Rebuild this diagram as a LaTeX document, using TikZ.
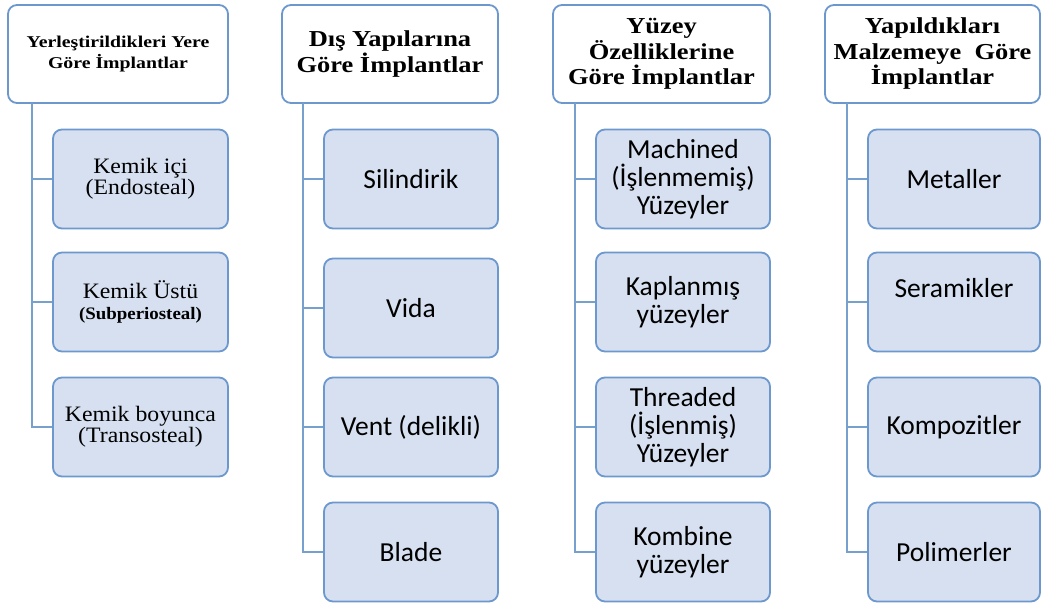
\documentclass[tikz,border=0pt]{standalone}
\usepackage{fontspec}
\setmainfont{Liberation Serif}
\newfontfamily\hdfont[FakeStretch=1.16]{Liberation Serif}
\newfontfamily\hdsmallfont[FakeStretch=1.2]{Liberation Serif}
\newfontfamily\serfont[FakeStretch=1.08]{Liberation Serif}
\newfontfamily\calibfont{Carlito}
\definecolor{bord}{RGB}{108,152,206}
\definecolor{fillb}{RGB}{214,224,240}
\definecolor{connc}{RGB}{120,160,205}
\begin{document}
\begin{tikzpicture}[x=1pt,y=-1pt,
  hdr/.style={draw=bord, fill=white, line width=1.8pt, rounded corners=9pt,
    align=center, inner sep=0pt, minimum height=98pt,
    font=\hdfont\bfseries\fontsize{22.8}{25.5}\selectfont},
  kid/.style={draw=bord, fill=fillb, line width=1.8pt, rounded corners=9pt,
    align=center, inner sep=0pt, minimum width=174pt, minimum height=99pt,
    font=\calibfont\fontsize{27.5}{28}\selectfont},
  serkid/.style={kid, font=\serfont\fontsize{22}{21}\selectfont},
  link/.style={draw=connc, line width=1.8pt}]
\useasboundingbox (0,0) rectangle (1041,606);

% column 1
\node[hdr, minimum width=220pt, font=\hdsmallfont\bfseries\fontsize{16.5}{21}\selectfont] (h1) at (118,54) {Yerleştirildikleri Yere\\Göre İmplantlar};
\node[serkid, minimum width=175pt] (a1) at (140.5,179) {Kemik içi\\(Endosteal)};
\node[serkid, minimum width=175pt] (a2) at (140.5,302) {Kemik Üstü\\{\bfseries\fontsize{17.5}{20}\selectfont(Subperiosteal)}};
\node[serkid, minimum width=175pt] (a3) at (140.5,427) {Kemik boyunca\\(Transosteal)};

% column 2
\node[hdr, minimum width=216pt] (h2) at (390,54) {Dış Yapılarına\\Göre İmplantlar};
\node[kid] (b1) at (411,179) {Silindirik};
\node[kid] (b2) at (411,308) {Vida};
\node[kid] (b3) at (411,427) {Vent (delikli)};
\node[kid] (b4) at (411,552) {Blade};

% column 3
\node[hdr, minimum width=217pt] (h3) at (661.5,54) {Yüzey\\Özelliklerine\\Göre İmplantlar};
\node[kid] (c1) at (683,179) {Machined\\(İşlenmemiş)\\Yüzeyler};
\node[kid] (c2) at (683,302) {Kaplanmış\\yüzeyler};
\node[kid] (c3) at (683,427) {Threaded\\(İşlenmiş)\\Yüzeyler};
\node[kid] (c4) at (683,552) {Kombine\\yüzeyler};

% column 4
\node[hdr, minimum width=215pt] (h4) at (932.5,54) {Yapıldıkları\\Malzemeye\ \ Göre\\İmplantlar};
\node[kid, minimum width=172pt] (d1) at (954,179) {Metaller};
\node[kid, minimum width=172pt] (d2) at (954,302) {Seramikler\\\mbox{}};
\node[kid, minimum width=172pt] (d3) at (954,427) {Kompozitler};
\node[kid, minimum width=172pt] (d4) at (954,552) {Polimerler};

% trunks
\coordinate (t1) at (32,103);
\coordinate (t2) at (303,103);
\coordinate (t3) at (575,103);
\coordinate (t4) at (847,103);

\draw[link] (t1) |- (a3.west);
\draw[link] (a1.west -| t1) -- (a1.west);
\draw[link] (a2.west -| t1) -- (a2.west);

\draw[link] (t2) |- (b4.west);
\draw[link] (b1.west -| t2) -- (b1.west);
\draw[link] (b2.west -| t2) -- (b2.west);
\draw[link] (b3.west -| t2) -- (b3.west);

\draw[link] (t3) |- (c4.west);
\draw[link] (c1.west -| t3) -- (c1.west);
\draw[link] (c2.west -| t3) -- (c2.west);
\draw[link] (c3.west -| t3) -- (c3.west);

\draw[link] (t4) |- (d4.west);
\draw[link] (d1.west -| t4) -- (d1.west);
\draw[link] (d2.west -| t4) -- (d2.west);
\draw[link] (d3.west -| t4) -- (d3.west);
\end{tikzpicture}
\end{document}
